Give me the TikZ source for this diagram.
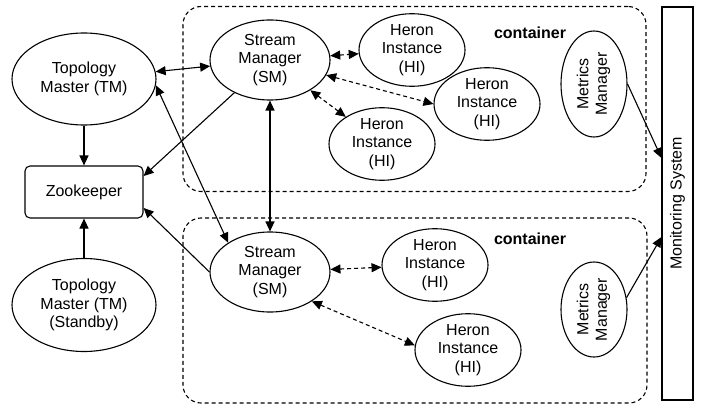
\documentclass[tikz,border=0pt]{standalone}
\usepackage{fontspec}
\setmainfont{Liberation Sans}
\usetikzlibrary{positioning,shapes.geometric,arrows.meta}

\begin{document}
\begin{tikzpicture}[
    x=1pt, y=-1pt,
    % Basic styling
    every node/.style={
        align=center,
        font=\fontsize{16}{18.5}\selectfont,
        inner sep=0pt
    },
    % Styles for the parts
    master/.style={ellipse, draw, line width=1.1pt, minimum width=144pt, minimum height=92pt},
    manager/.style={ellipse, draw, line width=1.1pt, minimum width=120pt, minimum height=80pt},
    instance/.style={ellipse, draw, line width=1.1pt, minimum width=106pt, minimum height=64pt},
    metrics/.style={ellipse, draw, line width=1.1pt, minimum width=66pt},
    container/.style={draw, line width=1.1pt, dash pattern=on 4pt off 3pt, rounded corners=18pt},
    link/.style={line width=1.1pt, -{Triangle[length=10pt,width=9pt]}},
    twoway/.style={link, {Triangle[length=10pt,width=9pt]}-{Triangle[length=10pt,width=9pt]}},
    dlink/.style={twoway, dash pattern=on 4pt off 3pt}
]
    \useasboundingbox (0,0) rectangle (706,409);

    % Containers
    \node[container, minimum width=463pt, minimum height=185pt] (box1) at (414.5,99) {};
    \node[container, minimum width=464pt, minimum height=185pt] (box2) at (415,310.5) {};
    \node[font=\fontsize{16}{18.5}\selectfont\bfseries] (label1) at (530,33) {container};
    \node[font=\fontsize{16}{18.5}\selectfont\bfseries] (label2) at (530,239) {container};

    % Left side
    \node[master] (tm) at (84,79) {Topology\\Master (TM)};
    \node[draw, line width=1.1pt, rounded corners=5pt, minimum width=118pt, minimum height=52pt] (zk) at (84,192) {Zookeeper};
    \node[master, minimum height=93pt] (tms) at (84,305) {Topology\\Master (TM)\\(Standby)};

    % Stream managers
    \node[manager] (sm1) at (270,60) {Stream\\Manager\\(SM)};
    \node[manager] (sm2) at (270,272) {Stream\\Manager\\(SM)};

    % Heron instances
    \node[instance] (hi1) at (412,50) {Heron\\Instance\\(HI)};
    \node[instance] (hi2) at (487,104) {Heron\\Instance\\(HI)};
    \node[instance] (hi3) at (382,144) {Heron\\Instance\\(HI)};
    \node[instance, minimum height=66pt] (hi4) at (435,265) {Heron\\Instance\\(HI)};
    \node[instance, minimum height=67pt] (hi5) at (468,350) {Heron\\Instance\\(HI)};

    % Metrics managers and monitoring
    \node[metrics, minimum height=106pt] (mm1) at (594,84)
        {\rotatebox{90}{\begin{tabular}{@{}c@{}}Metrics\\Manager\end{tabular}}};
    \node[metrics, minimum height=95pt] (mm2) at (594,309.5)
        {\rotatebox{90}{\begin{tabular}{@{}c@{}}Metrics\\Manager\end{tabular}}};
    \node[draw, line width=1.1pt, minimum width=31pt, minimum height=393pt] (mon) at (677.5,203.5)
        {\rotatebox{90}{Monitoring System}};

    % Solid connections
    \draw[twoway] (tm) -- (sm1);
    \draw[twoway] (tm.-5) -- (sm2.145);
    \draw[twoway] (sm1) -- (sm2);
    \draw[link] (tm) -- (zk);
    \draw[link] (tms) -- (zk);
    \draw[link] (sm1) -- (zk.15);
    \draw[link] (sm2.west) -- (zk.-15);
    \draw[link] (mm1.east) -- ([yshift=45.5pt]mon.west);
    \draw[link] (mm2.20) -- ([yshift=-33.5pt]mon.west);

    % Dashed connections
    \draw[dlink] (sm1) -- (hi1);
    \draw[dlink] (sm1) -- (hi2.west);
    \draw[dlink] (sm1) -- (hi3);
    \draw[dlink] (sm2) -- (hi4);
    \draw[dlink] (sm2.-35) -- (hi5.175);
\end{tikzpicture}
\end{document}
